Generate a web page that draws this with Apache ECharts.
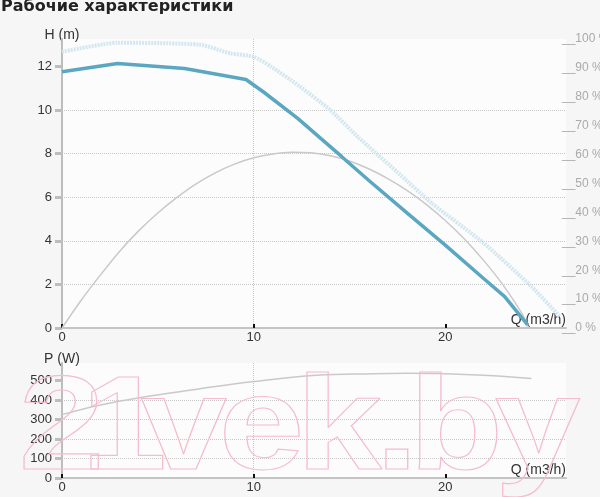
<!DOCTYPE html>
<html>
<head>
<meta charset="utf-8">
<script src="https://cdn.jsdelivr.net/npm/echarts@6/dist/echarts.min.js"></script>
<style>
html,body{margin:0;padding:0;background:#f6f6f6;}
#chart{width:600px;height:497px;}
</style>
</head>
<body>
<div id="chart"></div>
<script>
// ---- data ----
const titleText = 'Рабочие характеристики';
const flowTicks = [0, 10, 20];
const headTicks = [0, 2, 4, 6, 8, 10, 12];
const effTicks = [0, 10, 20, 30, 40, 50, 60, 70, 80, 90, 100];
const powerTicks = [0, 100, 200, 300, 400, 500];

// pump head curve H (m)
const flowH = [0, 2.9, 6.4, 8.8, 9.6, 10.5, 12.3, 13.5, 14.6, 16, 18, 20, 22, 23.1, 24.3];
const headH = [11.76, 12.14, 11.91, 11.53, 11.4, 10.84, 9.62, 8.7, 7.86, 6.78, 5.28, 3.8, 2.27, 1.44, 0.14];

// max curve (dotted light blue) H (m)
const flowMax = [0, 2.9, 7.2, 8.8, 10, 10.9, 12.3, 14, 15.5, 17.5, 19.3, 22, 24.5, 26];
const headMax = [12.67, 13.09, 13.0, 12.6, 12.45, 12.0, 11.15, 10.0, 8.72, 7.15, 5.72, 3.9, 1.9, 0.5];

// efficiency (%)
const flowEff = [0, 1, 2, 3, 4, 5, 6, 7, 8, 9, 10, 11, 12, 13, 14, 15, 16, 17, 18, 19, 20, 21, 22, 23, 24, 24.35];
const effVal = [0, 9.6, 18.3, 26.5, 33.6, 39.8, 45.2, 49.9, 53.7, 56.7, 58.9, 60.2, 60.8, 60.6, 59.6, 57.8, 55.1, 51.7, 47.6, 42.8, 37.2, 30.8, 23.4, 15.0, 5.0, 0];

// power P (W)
const flowP = [0, 2, 4.5, 7.2, 10, 13.3, 16.2, 18, 20, 22, 24.5];
const powerVal = [325, 375, 419, 458, 495, 527, 535, 537, 535, 527, 510];

const watermark = '21vek.by';

function pairs(xs, ys) { return xs.map((x, i) => [x, ys[i]]); }

const FONT = '"Liberation Sans", Arial, sans-serif';
const gridLine = { show: true, showMinLine: false, showMaxLine: false, lineStyle: { color: '#c8c8c8', type: 'dotted', width: 1 } };

function xAxisCfg(gridIndex) {
  return {
    gridIndex: gridIndex, type: 'value', min: 0, max: 26.3, interval: 10,
    name: 'Q (m3/h)', nameLocation: 'end', nameGap: 0, nameMoveOverlap: false,
    nameTextStyle: { color: '#333', fontSize: 14, fontFamily: FONT, align: 'right', verticalAlign: 'bottom', padding: [0, 0, 1, 0] },
    axisLine: { show: true, lineStyle: { color: '#c4c4c4', width: 2 } },
    axisTick: { show: true, inside: true, length: 4, customValues: flowTicks, lineStyle: { color: '#111', width: 2 } },
    axisLabel: { show: true, customValues: flowTicks, margin: 3, color: '#333', fontSize: 13, fontFamily: FONT },
    splitLine: gridLine
  };
}

// watermark glyph centres (layout only)
const wmCentres = [61.6, 124, 183.8, 261.5, 339, 397, 456, 537.5];
const wmGraphics = watermark.split('').map((ch, i) => ({
  type: 'text', x: wmCentres[i], y: 432, z: 100, silent: true, scaleX: 1.15,
  style: {
    text: ch, fontSize: 134, fontWeight: 'bold', fontFamily: FONT,
    fill: 'rgba(0,0,0,0)', stroke: '#f5bccb', lineWidth: 1.1,
    align: 'center', verticalAlign: 'middle'
  }
}));

const option = {
  backgroundColor: '#f6f6f6',
  animation: false,
  title: {
    text: titleText, left: 1, top: -1, padding: 0,
    textStyle: { fontSize: 16, fontWeight: 'bold', color: '#222', fontFamily: '"DejaVu Sans", Verdana, sans-serif' }
  },
  grid: [
    { left: 62, top: 39, width: 504, height: 289, show: true, backgroundColor: '#fcfcfc', borderWidth: 0, outerBoundsMode: 'none', containLabel: false },
    { left: 62, top: 363, width: 504, height: 115, show: true, backgroundColor: '#fcfcfc', borderWidth: 0, outerBoundsMode: 'none', containLabel: false }
  ],
  xAxis: [xAxisCfg(0), xAxisCfg(1)],
  yAxis: [
    {
      gridIndex: 0, type: 'value', min: 0, max: 13.26, interval: 2,
      name: 'H (m)', nameLocation: 'end', nameGap: 4,
      nameTextStyle: { color: '#333', fontSize: 14, fontFamily: FONT, align: 'center', verticalAlign: 'middle' },
      axisLine: { show: true, lineStyle: { color: '#bdbdbd', width: 2 } },
      axisTick: { show: true, length: 7, customValues: headTicks, lineStyle: { color: '#bdbdbd', width: 3 } },
      axisLabel: { customValues: headTicks, margin: 10, color: '#333', fontSize: 13, fontFamily: FONT },
      splitLine: gridLine
    },
    {
      gridIndex: 0, type: 'value', position: 'right', min: 0, max: 100, interval: 10,
      axisLine: { show: false }, axisTick: { show: false }, splitLine: { show: false },
      axisLabel: { customValues: effTicks, margin: -4, color: '#aaa', fontSize: 12, fontFamily: FONT, formatter: v => '__' + v + ' %' }
    },
    {
      gridIndex: 1, type: 'value', min: 0, max: 590, interval: 100,
      name: 'P (W)', nameLocation: 'end', nameGap: 4,
      nameTextStyle: { color: '#333', fontSize: 14, fontFamily: FONT, align: 'center', verticalAlign: 'middle' },
      axisLine: { show: true, lineStyle: { color: '#bdbdbd', width: 2 } },
      axisTick: { show: true, length: 7, customValues: powerTicks, lineStyle: { color: '#bdbdbd', width: 3 } },
      axisLabel: { customValues: powerTicks, margin: 10, color: '#333', fontSize: 13, fontFamily: FONT },
      splitLine: gridLine
    }
  ],
  series: [
    {
      name: 'Hmax', type: 'line', xAxisIndex: 0, yAxisIndex: 0, symbol: 'none', smooth: 0.2,
      data: pairs(flowMax, headMax),
      lineStyle: { color: '#d2e7ef', width: 4, type: [2, 1] }, z: 2
    },
    {
      name: 'Eta', type: 'line', xAxisIndex: 0, yAxisIndex: 1, symbol: 'none', smooth: 0.3,
      data: pairs(flowEff, effVal),
      lineStyle: { color: '#c9c9c9', width: 1.5 }, z: 3
    },
    {
      name: 'H', type: 'line', xAxisIndex: 0, yAxisIndex: 0, symbol: 'none', smooth: false,
      data: pairs(flowH, headH),
      lineStyle: { color: '#5ba7c2', width: 3.5 }, z: 4
    },
    {
      name: 'P', type: 'line', xAxisIndex: 1, yAxisIndex: 2, symbol: 'none', smooth: 0.4,
      data: pairs(flowP, powerVal),
      lineStyle: { color: '#c9c9c9', width: 1.5 }, z: 3
    }
  ],
  graphic: wmGraphics
};

const chart = echarts.init(document.getElementById('chart'), null, { renderer: 'canvas' });
chart.setOption(option);
</script>
</body>
</html>
